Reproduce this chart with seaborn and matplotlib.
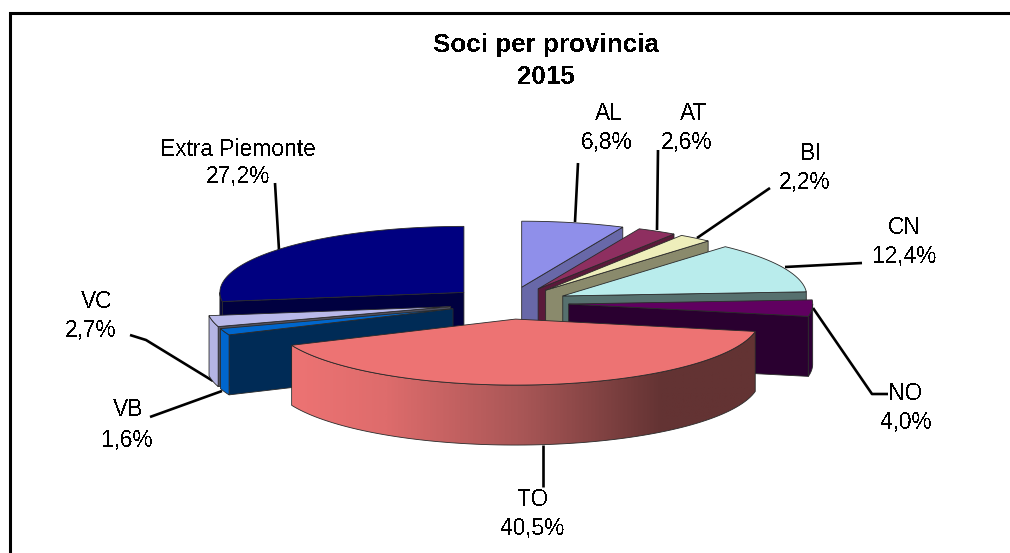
import numpy as np
import matplotlib
matplotlib.use("Agg")
import matplotlib.pyplot as plt
from matplotlib.colors import LinearSegmentedColormap
from matplotlib.patches import Polygon
import seaborn as sns

# ---- data ----
provinces = ["AL", "AT", "BI", "CN", "NO", "TO", "VB", "VC", "Extra Piemonte"]
shares = [6.8, 2.6, 2.2, 12.4, 4.0, 40.5, 1.6, 2.7, 27.2]
share_labels = ["6,8%", "2,6%", "2,2%", "12,4%", "4,0%", "40,5%", "1,6%", "2,7%", "27,2%"]
title_lines = ["Soci per provincia", "2015"]

# ---- styles ----
top_colors = ["#8f8fea", "#8e2f60", "#eeeebb", "#b9ecec", "#600060",
              "#ed7373", "#0066cc", "#b9b9ea", "#000080"]
cut_colors = ["#6868a8", "#5a1a3a", "#8a8a6c", "#56706e", "#2a0030",
              "#633333", "#002b56", "#50505f", "#000040"]
rim_colors = ["#6868a8", "#5a1a3a", "#8a8a6c", "#56706e", "#2e0036",
              "#ed7373", "#0066cc", "#b4b4e4", "#000040"]

# ---- layout (pixel-scaled axes) ----
W, H = 1010, 553
CX, CY = 509, 303          # pie centre
RX, RY = 244, 66           # ellipse of the tilted pie
DEPTH = 60
EXPLODE = 0.245
FS = 16.4

label_xy = [(609, 114), (694, 113), (811, 153), (904, 227), (905, 393),
            (533, 500), (128, 409), (97, 301), (238, 149)]
value_xy = [(607, 143), (687, 142), (805, 183), (904, 256), (906, 423),
            (533, 529), (127, 440), (91, 331), (238, 176)]
leaders = [
    [(578, 163), (575, 222)],
    [(658, 150), (657, 230)],
    [(770, 188), (697, 238)],
    [(862, 263), (785, 267)],
    [(813, 308), (872, 394), (888, 394)],
    [(543, 445), (543, 487)],
    [(150, 417), (222, 391)],
    [(130, 335), (146, 340), (213, 381)],
    [(275, 183), (279, 250)],
]

sns.set_theme(style="white", rc={"text.antialiased": False})
plt.rcParams["font.family"] = ["Liberation Sans", "DejaVu Sans"]
palette = sns.color_palette(top_colors)

fig = plt.figure(figsize=(W / 100, H / 100), dpi=100, facecolor="white")
ax = fig.add_axes([0, 0, 1, 1])
ax.set_xlim(0, W)
ax.set_ylim(H, 0)
ax.axis("off")

# frame: only left and top edges are in the crop
ax.plot([9.5, 9.5, W], [H, 13, 13], color="black", lw=2.2, solid_joinstyle="miter", zorder=1)

fractions = np.asarray(shares) / np.sum(shares) * 360.0
ends = np.cumsum(fractions)
starts = ends - fractions
mids = np.radians((starts + ends) / 2)
tips_x = CX + EXPLODE * RX * np.sin(mids)
tips_y = CY - EXPLODE * RY * np.cos(mids)


def rim_xy(i, deg):
    a = np.radians(deg)
    return tips_x[i] + RX * np.sin(a), tips_y[i] - RY * np.cos(a)


def poly(pts, fc, z, ec="#2a2a2a", lw=0.6):
    p = Polygon(pts, closed=True, facecolor=fc, edgecolor=ec, linewidth=lw, zorder=z)
    ax.add_patch(p)
    return p


gradient = LinearSegmentedColormap.from_list(
    "to_rim", [(0.0, "#ed7373"), (0.2, "#de6c6c"), (0.5, "#a85656"),
               (0.8, "#633333"), (1.0, "#633333")])

for rank, i in enumerate(np.argsort(tips_y)):
    z = 2 + rank
    th1, th2 = starts[i], ends[i]
    tip = (tips_x[i], tips_y[i])

    # cut faces that look towards the viewer
    for deg, sign in ((th2, -1), (th1, 1)):
        if sign * np.sin(np.radians(deg)) < -1e-6:
            rx_, ry_ = rim_xy(i, deg)
            poly([tip, (rx_, ry_), (rx_, ry_ + DEPTH), (tip[0], tip[1] + DEPTH)],
                 cut_colors[i], z)

    # outer face, front half of the ellipse only
    a1, a2 = max(th1, 90), min(th2, 270)
    if a2 > a1:
        arc = np.linspace(a1, a2, 90)
        xs, ys = rim_xy(i, arc)
        pts = np.r_[np.c_[xs, ys], np.c_[xs, ys + DEPTH][::-1]]
        if provinces[i] == "TO":
            p = poly(pts, "none", z + 0.2)
            im = ax.imshow(np.linspace(0, 1, 400)[None, :], cmap=gradient, aspect="auto",
                           extent=[xs.min(), xs.max(), ys.max() + DEPTH, ys.min()],
                           zorder=z + 0.1, vmin=0, vmax=1)
            clip = Polygon(pts, closed=True, transform=ax.transData)
            im.set_clip_path(clip)
        else:
            poly(pts, rim_colors[i], z + 0.1)

    # top face
    arc = np.linspace(th1, th2, 120)
    xs, ys = rim_xy(i, arc)
    poly(np.r_[[tip], np.c_[xs, ys]], palette[i], z + 0.3)

ax.set_xlim(0, W)
ax.set_ylim(H, 0)

# leader lines
for seg in leaders:
    sx, sy = zip(*seg)
    ax.plot(sx, sy, color="black", lw=1.9, zorder=1.5, solid_capstyle="butt")

# texts
for name, val, lxy, vxy in zip(provinces, share_labels, label_xy, value_xy):
    ax.text(*lxy, name, ha="center", va="center", fontsize=FS, color="black", zorder=30)
    ax.text(*vxy, val, ha="center", va="center", fontsize=FS, color="black", zorder=30)
for line, y in zip(title_lines, (45, 77)):
    ax.text(546, y, line, ha="center", va="center", fontsize=18.7, fontweight="bold",
            color="black", zorder=30)

fig.savefig("out.png", dpi=100, facecolor="white")
